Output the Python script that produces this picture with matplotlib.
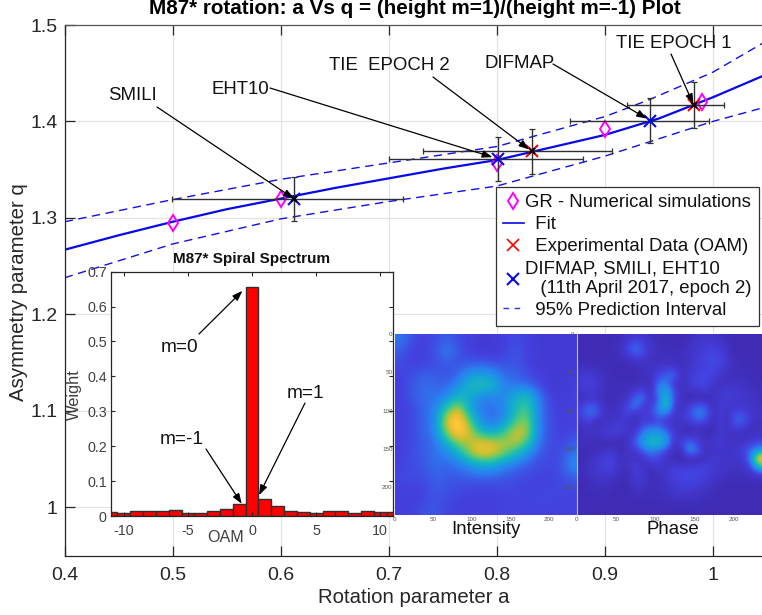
import matplotlib
matplotlib.use("Agg")
import matplotlib.pyplot as plt
from matplotlib.colors import LinearSegmentedColormap
from matplotlib.lines import Line2D

plt.rcParams['font.family'] = ['Liberation Sans', 'DejaVu Sans']

# ---------- data ----------
fit_a = [0.40, 0.45, 0.50, 0.55, 0.60, 0.65, 0.70, 0.75, 0.80, 0.85, 0.90, 0.95, 1.00, 1.046]
fit_q = [1.267, 1.282, 1.296, 1.309, 1.320, 1.331, 1.341, 1.351, 1.360, 1.373, 1.386, 1.403, 1.425, 1.447]
upper_a = [0.40, 0.50, 0.60, 0.70, 0.80, 0.90, 0.94, 1.00, 1.046]
upper_q = [1.296, 1.319, 1.340, 1.357, 1.374, 1.405, 1.422, 1.451, 1.481]
lower_a = [0.40, 0.50, 0.60, 0.70, 0.80, 0.90, 1.00, 1.046]
lower_q = [1.238, 1.273, 1.299, 1.317, 1.333, 1.364, 1.400, 1.414]

gr_a = [0.50, 0.60, 0.80, 0.90, 0.99]
gr_q = [1.295, 1.320, 1.357, 1.392, 1.420]

exp_a = [0.833, 0.983]
exp_q = [1.369, 1.417]
exp_a_lo = [0.7315, 0.9207]
exp_a_hi = [0.907, 1.0105]
exp_q_lo = [1.346, 1.393]
exp_q_hi = [1.392, 1.441]

img_a = [0.942, 0.801, 0.612]
img_q = [1.400, 1.361, 1.320]
img_a_lo = [0.868, 0.700, 0.499]
img_a_hi = [0.9966, 0.880, 0.713]
img_q_lo = [1.378, 1.338, 1.297]
img_q_hi = [1.424, 1.384, 1.342]

oam_m = list(range(-11, 12))
oam_w = [0.012, 0.008, 0.013, 0.013, 0.015, 0.017, 0.010, 0.008, 0.015, 0.020, 0.033, 0.657,
         0.050, 0.030, 0.014, 0.011, 0.008, 0.014, 0.013, 0.009, 0.013, 0.011, 0.012]

intensity = [
 [.24,.15,.12,.15,.18,.15,.12,.10,.10,.12,.15,.12,.10,.10,.10,.10],
 [.18,.12,.12,.15,.27,.17,.12,.10,.10,.12,.17,.13,.10,.10,.10,.10],
 [.15,.12,.13,.15,.18,.15,.17,.17,.15,.15,.17,.13,.10,.10,.10,.10],
 [.13,.15,.18,.18,.15,.20,.30,.33,.30,.20,.20,.15,.12,.10,.10,.10],
 [.12,.17,.22,.20,.20,.27,.47,.55,.48,.24,.22,.20,.15,.10,.10,.12],
 [.12,.17,.22,.22,.25,.45,.42,.26,.26,.28,.42,.50,.25,.13,.10,.12],
 [.12,.14,.20,.25,.50,.78,.36,.23,.22,.26,.46,.62,.26,.15,.10,.13],
 [.12,.14,.20,.25,.78,1.0,.58,.26,.20,.26,.54,.70,.26,.15,.12,.13],
 [.12,.14,.20,.25,.74,1.0,.78,.42,.33,.50,.76,.78,.26,.15,.12,.13],
 [.12,.15,.18,.22,.42,.72,.72,.82,.76,.72,.78,.62,.24,.15,.13,.18],
 [.12,.15,.18,.22,.26,.40,.72,.88,.84,.68,.50,.32,.18,.14,.15,.22],
 [.13,.15,.17,.22,.20,.23,.30,.42,.40,.30,.23,.18,.15,.14,.15,.30],
 [.14,.15,.15,.20,.18,.18,.20,.20,.20,.18,.16,.14,.13,.13,.15,.20],
 [.13,.13,.13,.18,.16,.15,.14,.14,.14,.14,.14,.13,.13,.13,.14,.14],
 [.12,.12,.13,.17,.15,.13,.12,.12,.12,.13,.13,.13,.14,.14,.13,.13],
 [.12,.12,.16,.17,.13,.12,.12,.12,.12,.13,.13,.13,.13,.13,.13,.13],
]
phase = [
 [.03,.03,.03,.03,.03,.04,.06,.10,.08,.05,.04,.03,.03,.03,.04,.07,.08,.07,.06,.04,.03,.03,.03,.03],
 [.03,.03,.03,.03,.04,.05,.12,.21,.14,.07,.05,.04,.03,.04,.06,.09,.10,.11,.09,.05,.03,.03,.03,.03],
 [.03,.03,.03,.03,.04,.05,.10,.20,.15,.07,.05,.05,.04,.05,.07,.09,.12,.14,.12,.06,.03,.03,.03,.03],
 [.03,.03,.04,.04,.03,.04,.05,.07,.07,.06,.05,.06,.05,.05,.07,.10,.13,.15,.14,.08,.04,.03,.03,.03],
 [.06,.06,.05,.04,.03,.03,.03,.04,.05,.06,.08,.11,.10,.04,.08,.11,.13,.14,.12,.07,.04,.04,.03,.03],
 [.09,.10,.08,.05,.04,.03,.03,.03,.05,.06,.14,.19,.22,.05,.09,.13,.14,.12,.07,.05,.05,.05,.04,.03],
 [.10,.12,.10,.06,.04,.04,.04,.04,.06,.03,.22,.24,.10,.03,.10,.14,.14,.10,.05,.06,.07,.06,.05,.04],
 [.08,.11,.09,.05,.04,.05,.05,.07,.14,.03,.28,.38,.14,.06,.07,.08,.10,.06,.08,.10,.09,.07,.06,.05],
 [.05,.08,.07,.04,.04,.05,.06,.20,.25,.04,.18,.50,.15,.05,.03,.03,.03,.04,.10,.11,.10,.09,.07,.05],
 [.10,.18,.16,.05,.05,.06,.12,.28,.08,.10,.24,.55,.10,.06,.10,.18,.16,.05,.10,.08,.07,.08,.07,.06],
 [.13,.22,.20,.06,.06,.07,.16,.06,.10,.12,.26,.25,.08,.08,.14,.27,.24,.05,.10,.06,.16,.15,.08,.07],
 [.07,.14,.04,.06,.07,.08,.07,.04,.12,.06,.15,.08,.07,.08,.10,.18,.14,.04,.11,.05,.20,.18,.08,.06],
 [.05,.07,.06,.08,.11,.12,.10,.05,.18,.26,.24,.16,.07,.05,.04,.04,.05,.03,.10,.06,.12,.08,.05,.05],
 [.05,.06,.06,.09,.10,.07,.05,.12,.30,.38,.40,.30,.10,.08,.05,.10,.04,.05,.09,.07,.05,.04,.06,.07],
 [.05,.05,.04,.03,.03,.03,.06,.18,.32,.48,.46,.34,.05,.12,.25,.12,.06,.10,.09,.07,.07,.09,.12,.15],
 [.03,.03,.05,.07,.09,.04,.07,.08,.18,.25,.20,.12,.06,.04,.30,.22,.04,.06,.08,.08,.08,.12,.22,.35],
 [.03,.05,.08,.10,.14,.04,.08,.06,.06,.16,.14,.06,.03,.03,.04,.03,.06,.10,.08,.07,.08,.10,.25,1.0],
 [.04,.06,.09,.12,.13,.06,.05,.12,.07,.04,.10,.07,.10,.08,.09,.10,.12,.10,.08,.07,.06,.07,.14,.55],
 [.04,.06,.08,.10,.09,.05,.03,.12,.08,.04,.05,.08,.13,.14,.15,.14,.12,.09,.07,.06,.05,.05,.07,.10],
 [.03,.05,.06,.07,.05,.04,.03,.10,.07,.05,.05,.07,.11,.12,.13,.12,.10,.07,.05,.04,.04,.04,.04,.05],
 [.03,.04,.05,.05,.04,.03,.03,.07,.06,.04,.05,.06,.09,.10,.10,.09,.07,.05,.04,.03,.03,.03,.03,.03],
 [.03,.03,.03,.04,.03,.03,.03,.04,.04,.04,.04,.05,.06,.07,.07,.06,.05,.04,.03,.03,.03,.03,.03,.03],
 [.03,.03,.03,.03,.03,.03,.03,.03,.03,.03,.03,.04,.04,.04,.05,.04,.03,.03,.03,.03,.03,.03,.03,.03],
 [.03,.03,.03,.03,.03,.03,.03,.03,.03,.03,.03,.03,.03,.03,.03,.03,.03,.03,.03,.03,.03,.03,.03,.03],
]

a_ticks = [0.4, 0.5, 0.6, 0.7, 0.8, 0.9, 1.0]
a_labels = ['0.4', '0.5', '0.6', '0.7', '0.8', '0.9', '1']
q_ticks = [1.0, 1.1, 1.2, 1.3, 1.4, 1.5]
q_labels = ['1', '1.1', '1.2', '1.3', '1.4', '1.5']
w_ticks = [0, 0.1, 0.2, 0.3, 0.4, 0.5, 0.6, 0.7]
w_labels = ['0', '0.1', '0.2', '0.3', '0.4', '0.5', '0.6', '0.7']
m_ticks = [-10, -5, 0, 5, 10]
m_labels = ['-10', '-5', '0', '5', '10']
img_ticks = [0, 50, 100, 150, 200]

# ---------- layout helpers ----------
W, H = 762, 615
DARK = '#262626'
fig = plt.figure(figsize=(W / 100, H / 100), dpi=100)


def axes_px(x0, y0, x1, y1, **kw):
    return fig.add_axes([x0 / W, 1 - y1 / H, (x1 - x0) / W, (y1 - y0) / H], **kw)


def pt(x, y):
    return (x, H - y)


parula = LinearSegmentedColormap.from_list('parula_like', [
    (0.00, '#3e26a8'), (0.125, '#4440e0'), (0.25, '#2a80f0'), (0.375, '#14a5d8'),
    (0.50, '#1cbcb4'), (0.625, '#5ccb70'), (0.75, '#c8c030'), (0.875, '#fcc038'), (1.00, '#f9fb15')])

# ---------- main axes ----------
ax = axes_px(64.7, 25, 762, 555.5)
ax.set_xlim(0.4, 1.0456)
ax.set_ylim(0.95, 1.5)
ax.grid(True, color='#e4e4e4', lw=0.9)
ax.set_axisbelow(True)
ax.spines['right'].set_visible(False)
for s in ax.spines.values():
    s.set_color(DARK)
    s.set_linewidth(0.9)
ax.spines['top'].set_color('#555555')
ax.tick_params(direction='in', length=7, width=0.9, top=True, color=DARK,
               labelcolor=DARK, labelsize=14, pad=8)
ax.tick_params(axis='y', pad=5)
ax.set_xticks(a_ticks, a_labels)
ax.set_yticks(q_ticks, q_labels)
ax.set_xlabel('Rotation parameter a', fontsize=14.7, color=DARK, labelpad=3)
ax.set_ylabel('Asymmetry parameter q', fontsize=14.7, color=DARK, va='center')
ax.yaxis.set_label_coords(-0.0656, 0.4962)
fig.text(414.5 / W, 1 - 9 / H, 'M87* rotation: a Vs q = (height m=1)/(height m=-1) Plot',
         ha='center', va='center', fontsize=14.9, fontweight='bold', color='black')

ax.plot(upper_a, upper_q, color='#1010e8', lw=1.0, dashes=(6, 4))
ax.plot(lower_a, lower_q, color='#1010e8', lw=1.0, dashes=(6, 4))
ax.plot(fit_a, fit_q, color='#0808e8', lw=1.6)
ax.plot(gr_a, gr_q, ls='none', marker='d', ms=8, mfc='none', mec='#ff00ff', mew=1.4)

for a, q, alo, ahi, qlo, qhi in zip(exp_a + img_a, exp_q + img_q, exp_a_lo + img_a_lo,
                                    exp_a_hi + img_a_hi, exp_q_lo + img_q_lo, exp_q_hi + img_q_hi):
    ax.errorbar([a], [q], xerr=[[a - alo], [ahi - a]], yerr=[[q - qlo], [qhi - q]],
                color='#303030', lw=1.0, capsize=2.2, capthick=0.9, ls='none')
ax.plot(exp_a, exp_q, ls='none', marker='x', ms=9, mec='#ff0000', mew=1.5)
ax.plot(img_a, img_q, ls='none', marker='x', ms=9, mec='#0808e8', mew=1.5)
ax.plot(exp_a + img_a[2:], exp_q + img_q[2:], ls='none', marker='x', ms=4.5, mec='black', mew=1.3)

arrow = dict(arrowstyle='-|>,head_length=0.55,head_width=0.2', color='black', lw=0.9,
             shrinkA=0, shrinkB=0, mutation_scale=11)
notes = [('SMILI', (132, 96), (157, 107), (img_a[2], img_q[2])),
         ('EHT10', (240, 89), (270, 88), (img_a[1] - 0.005, img_q[1] + 0.002)),
         ('TIE  EPOCH 2', (389, 65), (433, 77), (exp_a[0] - 0.003, exp_q[0] + 0.002)),
         ('DIFMAP', (520, 64), (553, 64), (img_a[0] - 0.003, img_q[0] + 0.003)),
         ('TIE EPOCH 1', (674, 43), (671, 54), (exp_a[1] - 0.001, exp_q[1] + 0.001))]
for label, tpos, start, tip in notes:
    fig.text(tpos[0] / W, 1 - tpos[1] / H, label, ha='center', va='center', fontsize=13.4, color='#111111')
    ax.annotate('', xy=tip, xycoords='data', xytext=pt(*start), textcoords='figure pixels', arrowprops=arrow)

handles = [
    Line2D([], [], ls='none', marker='d', ms=8, mfc='none', mec='#ff00ff', mew=1.4),
    Line2D([], [], color='#0808e8', lw=1.2),
    Line2D([], [], ls='none', marker='x', ms=9, mec='#ff0000', mew=1.2),
    Line2D([], [], ls='none', marker='x', ms=9, mec='#0808e8', mew=1.5),
    Line2D([], [], color='#3030f0', lw=1.0, dashes=(4, 4)),
]
labels = ['GR - Numerical simulations', '  Fit', '  Experimental Data (OAM)',
          'DIFMAP, SMILI, EHT10\n   (11th April 2017, epoch 2)', '  95% Prediction Interval']
leg = fig.legend(handles, labels, loc='upper left', bbox_to_anchor=(496 / W, 1 - 187 / H),
                 bbox_transform=fig.transFigure, fontsize=13.4, frameon=True, fancybox=False,
                 framealpha=1, edgecolor='#333333', borderpad=0.38, labelspacing=0.27,
                 handlelength=1.1, handletextpad=0.1, borderaxespad=0, labelcolor='#111111')
leg.get_frame().set_linewidth(0.9)
leg.set_zorder(3)

# ---------- inset spectrum ----------
ins = axes_px(111, 271.7, 393, 516, zorder=4)
ins.set_xlim(-11, 11)
ins.set_ylim(0, 0.7)
ins.bar(oam_m, oam_w, width=1.0, color='#ff0000', edgecolor='#303030', linewidth=1.0)
ins.set_xticks(m_ticks, m_labels)
ins.set_yticks(w_ticks, w_labels)
ins.tick_params(direction='in', length=3, width=0.8, top=True, right=True, color=DARK,
                labelcolor='#404040', labelsize=10.3, pad=3)
ins.tick_params(axis='x', pad=6)
for s in ins.spines.values():
    s.set_color(DARK)
    s.set_linewidth(0.9)
fig.text(252 / W, 1 - 259 / H, 'M87* Spiral Spectrum', ha='center', va='center',
         fontsize=11, fontweight='bold', color='#111111', zorder=6)
fig.text(226 / W, 1 - 537 / H, 'OAM', ha='center', va='center', fontsize=11.6, color='#404040', zorder=6)
fig.text(74 / W, 1 - 395 / H, 'Weight', ha='center', va='center', rotation=90, fontsize=11.8,
         color='#404040', zorder=6)
inset_notes = [('m=0', (179, 348), (199, 334), (oam_m[11] - 0.75, 0.645)),
               ('m=1', (305, 393), (305, 403), (oam_m[12] - 0.45, 0.06)),
               ('m=-1', (182, 440), (206, 449), (oam_m[10] + 0.2, 0.035))]
for label, tpos, start, tip in inset_notes:
    ins.text(tpos[0], H - tpos[1], label, transform=None, ha='center', va='center',
             fontsize=13.7, color='#111111', zorder=8)
    ins.annotate('', xy=tip, xycoords='data', xytext=pt(*start), textcoords='figure pixels',
                 arrowprops=arrow, zorder=8)


# ---------- images ----------
def image_axes(x0, x1, grid, z):
    im = axes_px(x0, 334, x1, 515, zorder=z)
    im.imshow(grid, cmap=parula, vmin=0, vmax=1, extent=(0, 236, 236, 0), aspect='auto',
              interpolation='bicubic')
    im.set_xticks(img_ticks, [str(t) for t in img_ticks])
    im.set_yticks(img_ticks, [str(t) for t in img_ticks])
    im.tick_params(length=0, labelsize=4.5, pad=1.5, labelcolor='#555555')
    for s in im.spines.values():
        s.set_visible(False)
    return im


image_axes(394.7, 576.7, intensity, 5)
phase_ax = image_axes(576.7, 762, phase, 5)
phase_ax.spines['left'].set_visible(True)
phase_ax.spines['left'].set_color('#c8c8a0')
phase_ax.spines['left'].set_linewidth(0.8)

fig.text(486 / W, 1 - 529 / H, 'Intensity', ha='center', va='center', fontsize=13.4, color='#111111', zorder=7)
fig.text(672.7 / W, 1 - 529 / H, 'Phase', ha='center', va='center', fontsize=13.4, color='#111111', zorder=7)

fig.savefig('out.png', dpi=100)
